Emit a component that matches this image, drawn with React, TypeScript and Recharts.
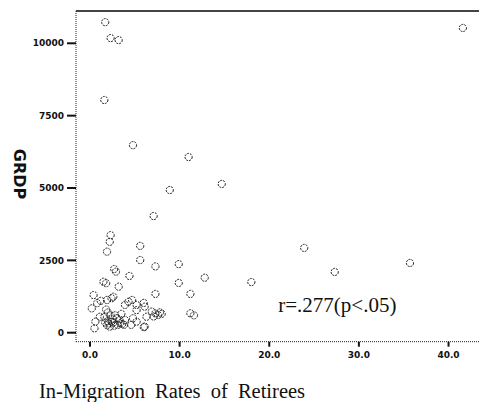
import React from "react"
import {
  ScatterChart,
  Scatter,
  XAxis,
  YAxis,
  ReferenceLine,
  ReferenceDot,
} from "recharts"

// in-migration rate of retirees (x) and GRDP (y)
const migrationRates = [
  1.7, 2.3, 3.2, 1.6, 4.8, 11.0, 14.7, 8.9, 7.1, 41.6,
  23.9, 27.3, 35.7, 18.0, 12.8, 2.3, 2.2, 1.9, 5.6, 5.6,
  7.3, 9.9, 2.7, 4.4, 1.8, 3.2, 9.9, 11.2, 7.3, 0.4,
  0.8, 1.9, 2.6, 3.9, 4.7, 6.0, 5.2, 11.2, 11.6, 7.3,
  7.6, 6.9, 6.3, 4.8, 6.0, 0.6, 1.1, 3.4, 3.8, 2.4,
  1.5, 0.2, 0.5, 1.6, 2.4, 3.1, 2.2, 3.9, 4.6, 5.2,
  6.1, 2.0, 2.8, 1.8, 2.5, 3.0, 2.1, 3.5, 1.2, 4.3,
  5.2, 7.8, 2.9, 6.1, 2.0, 2.6, 3.3, 1.9, 2.7, 3.6,
  2.3, 1.7, 7.1, 8.0,
]
const grdp = [
  10730, 10180, 10110, 8040, 6480, 6070, 5140, 4930, 4030, 10530,
  2930, 2100, 2410, 1750, 1900, 3370, 3140, 2800, 3000, 2510,
  2290, 2370, 2200, 1960, 1710, 1590, 1720, 1340, 1340, 1300,
  1020, 1130, 1240, 960, 1130, 1030, 780, 670, 600, 670,
  610, 730, 550, 500, 190, 380, 550, 330, 270, 1190,
  1760, 840, 150, 550, 380, 270, 210, 440, 270, 380,
  210, 700, 600, 800, 480, 500, 320, 650, 1100, 1070,
  960, 700, 2110, 900, 400, 350, 450, 260, 240, 300,
  600, 350, 560, 650,
]

const xTicks = [0, 10, 20, 30, 40]
const yTicks = [0, 2500, 5000, 7500, 10000]
const xTickLabels = ["0.0", "10.0", "20.0", "30.0", "40.0"]
const yTickLabels = ["0", "2500", "5000", "7500", "10000"]

const X_DOMAIN: [number, number] = [-1.56, 43.4]
const Y_DOMAIN: [number, number] = [-311, 11116]

const points = migrationRates.map((x, i) => ({ x, y: grdp[i] }))

const tickStyle = {
  fontFamily: "DejaVu Sans",
  fontWeight: "bold",
  fontSize: 9,
  fill: "#111",
}

const Ring = (props: any) => (
  <circle
    cx={props.cx}
    cy={props.cy}
    r={3.6}
    fill="none"
    stroke="#222"
    strokeWidth={1}
    strokeDasharray="2 1"
  />
)

export default function App() {
  return (
    <div style={{ position: "absolute", left: 0, top: 0, background: "#fff" }}>
      <ScatterChart
        width={479}
        height={402}
        margin={{ top: 11, right: 0, left: 0, bottom: 0 }}
      >
        <XAxis
          type="number"
          dataKey="x"
          domain={X_DOMAIN}
          ticks={xTicks}
          tickFormatter={(v: number) => xTickLabels[xTicks.indexOf(v)]}
          allowDataOverflow
          height={60.3}
          tickSize={5}
          tickMargin={5}
          tick={tickStyle}
          axisLine={{ stroke: "#222", strokeDasharray: "1 1" }}
          tickLine={{ stroke: "#111", strokeWidth: 2 }}
          label={{
            content: () => (
              <text
                x={39}
                y={398}
                fontFamily="Liberation Serif"
                fontSize={20.5}
                wordSpacing={5}
                fill="#111"
              >
                In-Migration Rates of Retirees
              </text>
            ),
          }}
        />
        <YAxis
          type="number"
          dataKey="y"
          domain={Y_DOMAIN}
          ticks={yTicks}
          tickFormatter={(v: number) => yTickLabels[yTicks.indexOf(v)]}
          allowDataOverflow
          width={76}
          tickSize={9}
          tickMargin={3}
          tick={tickStyle}
          axisLine={{ stroke: "#222", strokeDasharray: "1 1" }}
          tickLine={{ stroke: "#111", strokeWidth: 2 }}
          label={{
            content: () => (
              <text
                x={19}
                y={174}
                transform="rotate(90 19 174)"
                textAnchor="middle"
                dominantBaseline="central"
                fontFamily="DejaVu Sans"
                fontWeight="bold"
                fontSize={16}
                fill="#111"
              >
                GRDP
              </text>
            ),
          }}
        />
        <ReferenceLine y={Y_DOMAIN[1]} stroke="#444" strokeWidth={2} />
        <Scatter data={points} shape={Ring} isAnimationActive={false} />
        <ReferenceDot
          x={21}
          y={725}
          r={0}
          label={{
            content: (p: any) => (
              <text
                x={p.viewBox.x}
                y={p.viewBox.y}
                fontFamily="Liberation Serif"
                fontSize={21}
                fill="#111"
              >
                r=.277(p&lt;.05)
              </text>
            ),
          }}
        />
      </ScatterChart>
    </div>
  )
}
